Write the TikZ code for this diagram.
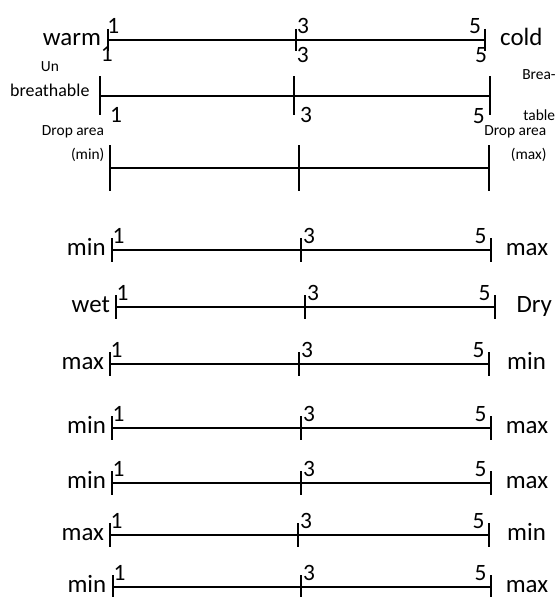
\documentclass[tikz,border=0pt]{standalone}
\usepackage{fontspec}
\setmainfont{Carlito}
\usetikzlibrary{calc}

\tikzset{
  scaleline/.style={line width=2bp},
  word/.style={inner sep=0pt, anchor=base, font=\fontsize{25}{30}\selectfont},
  digit/.style={inner sep=0pt, anchor=base, font=\fontsize{23.5}{28}\selectfont},
  small/.style={inner sep=0pt, anchor=base, font=\fontsize{15.5}{18}\selectfont},
}

\begin{document}
\begin{tikzpicture}[x=1bp,y=-1bp]
\useasboundingbox (0,0) rectangle (556,597);
% warm -- cold
\coordinate (wa) at (108,40);
\coordinate (wb) at (296,40);
\coordinate (wc) at (485,40);
\draw[scaleline] (wa) -- (wc);
\foreach \p in {wa,wb,wc} \draw[scaleline] (\p) ++(0,-11) -- ++(0,22);
\node[word] (warm) at (71.9,45.2) {warm};
\node[word] (cold) at (521.3,45.2) {cold};
\node[digit] (wone) at (113.3,33.3) {1};
\node[digit] (wthree) at (303,33.3) {3};
\node[digit] (wfive) at (475,33.3) {5};
\node[digit] (wone2) at (106.7,62) {1};
\node[digit] (wthree2) at (302.7,62.5) {3};
\node[digit] (wfive2) at (481,62.3) {5};

% breathable
\coordinate (ba) at (100,96);
\coordinate (bb) at (294,96);
\coordinate (bc) at (490,96);
\draw[scaleline] (ba) -- (bc);
\foreach \p in {ba,bb,bc} \draw[scaleline] (\p) ++(0,-19.5) -- ++(0,39);
\node[small] (un) at (50,71.7) {Un};
\node[inner sep=0pt, anchor=base, font=\fontsize{18}{21}\selectfont] (breath) at (49.8,96.7) {breathable};
\node[small] (brea) at (539,80) {Brea-};
\node[small] (table) at (539.3,121) {table};
\node[digit] (bone) at (116,122.7) {1};
\node[digit] (bthree) at (306,122.7) {3};
\node[digit] (bfive) at (478.7,123.2) {5};

% drop area
\coordinate (da) at (110,168);
\coordinate (db) at (299,168);
\coordinate (dc) at (489,168);
\draw[scaleline] (da) -- (dc);
\foreach \p in {da,db,dc} \draw[scaleline] (\p) ++(0,-22.5) -- ++(0,45);
\node[small] (dropl) at (73,136) {Drop area};
\node[small] (minl) at (87.7,160) {(min)};
\node[small] (dropr) at (515.3,136) {Drop area};
\node[small] (maxr) at (528.7,160) {(max)};

% min / max scales
\foreach \y/\xa/\xb/\xc/\lt/\lx/\rt/\rx [count=\n] in {
  250/112/301/491/min/86.3/max/527,
  307/116/305/495/wet/90.8/Dry/534.3,
  364/110/299/489/max/82.8/min/526.5,
  428/112/301/491/min/86.5/max/527,
  483/112/301/491/min/86.5/max/527,
  535/110/298/489/max/82.8/min/526.5,
  587/113/301/491/min/86.9/max/527} {
  \coordinate (a\n) at (\xa,\y);
  \coordinate (b\n) at (\xb,\y);
  \coordinate (c\n) at (\xc,\y);
  \draw[scaleline] (a\n) -- (c\n);
  \foreach \p in {a\n,b\n,c\n} \draw[scaleline] (\p) ++(0,-12) -- ++(0,24);
  \node[word] (lt\n) at (\lx,\y+5) {\lt};
  \node[word] (rt\n) at (\rx,\y+5) {\rt};
  \node[digit] (one\n) at (\xa+6.5,\y-7) {1};
  \node[digit] (three\n) at (\xb+8,\y-7) {3};
  \node[digit] (five\n) at (\xc-10.5,\y-7) {5};
}
\end{tikzpicture}
\end{document}
